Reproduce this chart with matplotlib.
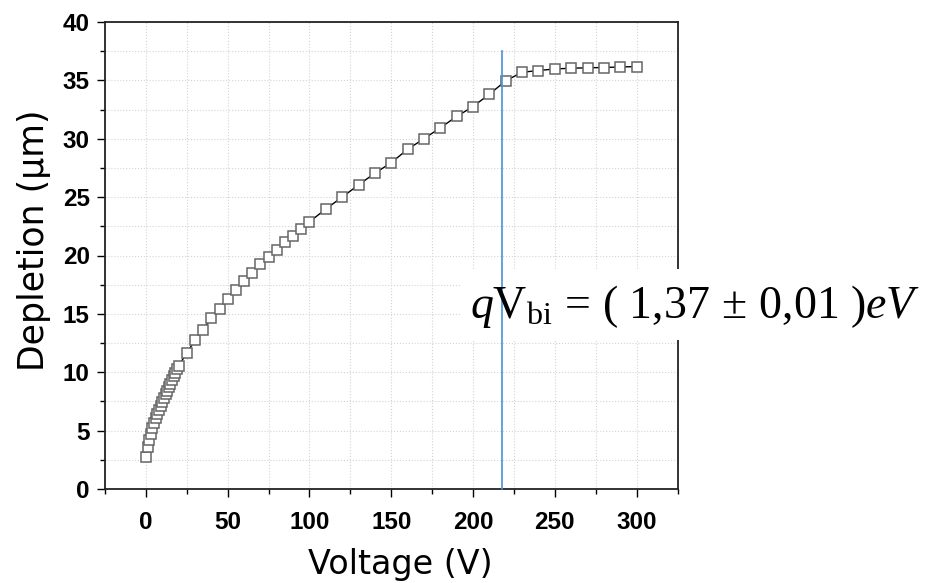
import matplotlib
matplotlib.use('Agg')
import matplotlib.pyplot as plt
from matplotlib.patches import Rectangle
from matplotlib.ticker import MultipleLocator

# depletion width vs reverse voltage
voltage = [0, 1, 2, 3, 4, 5, 6, 7, 8, 9, 10, 11, 12, 13, 14, 15, 16, 17, 18, 19, 20,
           25, 30, 35, 40, 45, 50, 55, 60, 65, 70, 75, 80, 85, 90, 95, 100,
           110, 120, 130, 140, 150, 160, 170, 180, 190, 200, 210, 220,
           230, 240, 250, 260, 270, 280, 290, 300]
depletion = [2.78, 3.56, 4.18, 4.70, 5.19, 5.64, 6.04, 6.41, 6.78, 7.12, 7.46,
             7.78, 8.12, 8.40, 8.74, 9.03, 9.34, 9.66, 9.97, 10.25, 10.54,
             11.65, 12.74, 13.62, 14.67, 15.44, 16.30, 17.01, 17.78, 18.46, 19.23,
             19.86, 20.51, 21.14, 21.71, 22.31, 22.88,
             23.99, 25.00, 26.05, 27.05, 27.95, 29.10, 30.00, 30.94, 31.91, 32.76,
             33.82, 34.96, 35.70, 35.84, 35.98, 36.04, 36.08, 36.10, 36.15, 36.18]

v_full = 217.5      # full depletion voltage marker
v_line_top = 37.5
label_text = r'$q\mathrm{V}_{\mathrm{bi}}\,=\,(\ 1{,}37\,\pm\,0{,}01\ )eV$'

plt.rcParams['mathtext.fontset'] = 'custom'
plt.rcParams['mathtext.rm'] = 'Liberation Serif'
plt.rcParams['mathtext.it'] = 'Liberation Serif:italic'

W, H = 932, 583
fig = plt.figure(figsize=(W / 100, H / 100), dpi=100)
ax = fig.add_axes([105 / W, 1 - 489 / H, 572.5 / W, 467 / H])

ax.plot(voltage, depletion, color='black', lw=1.0, marker='s', markersize=7.5,
        markerfacecolor='white', markeredgecolor='#666666', markeredgewidth=1.1,
        zorder=2)

ax.set_xlim(-25, 325)
ax.set_ylim(0, 40)
ax.xaxis.set_major_locator(MultipleLocator(50))
ax.xaxis.set_minor_locator(MultipleLocator(25))
ax.yaxis.set_major_locator(MultipleLocator(5))
ax.yaxis.set_minor_locator(MultipleLocator(2.5))
ax.grid(True, which='both', linestyle=':', color='#d4d4d4', lw=0.8)
ax.set_axisbelow(True)

ax.tick_params(which='major', direction='out', length=6, width=1.0)
ax.tick_params(which='minor', direction='out', length=3.5, width=1.0)
ax.tick_params(axis='x', which='major', pad=10)
ax.tick_params(axis='y', which='major', pad=5)
for lab in ax.get_xticklabels() + ax.get_yticklabels():
    lab.set_fontfamily('Liberation Sans')
    lab.set_fontweight('bold')
    lab.set_fontsize(17.5)
for sp in ax.spines.values():
    sp.set_linewidth(1.3)
    sp.set_color('#222222')

ax.set_xlabel('Voltage (V)', fontsize=24, family='DejaVu Sans', va='baseline')
ax.xaxis.set_label_coords((400 - 105) / 572.5, (489 - 574) / 467)
ax.set_ylabel('Depletion (μm)', fontsize=25, family='DejaVu Sans', va='baseline')
ax.yaxis.set_label_coords((44 - 105) / 572.5, (489 - 240) / 467)

# white box behind the annotation, covering grid and right spine
box = Rectangle((461 / W, 1 - 340 / H), 471 / W, 71 / H, transform=fig.transFigure,
                facecolor='white', edgecolor='none', clip_on=False, zorder=2.6)
ax.add_patch(box)

ax.plot([v_full, v_full], [0, v_line_top], color='#4a90d9', lw=1.2, zorder=3,
        clip_on=False)

ax.text(470 / W, 1 - 318 / H, label_text, transform=fig.transFigure,
        fontsize=33, ha='left', va='baseline', zorder=5, clip_on=False)

fig.savefig('out.png', dpi=100)
